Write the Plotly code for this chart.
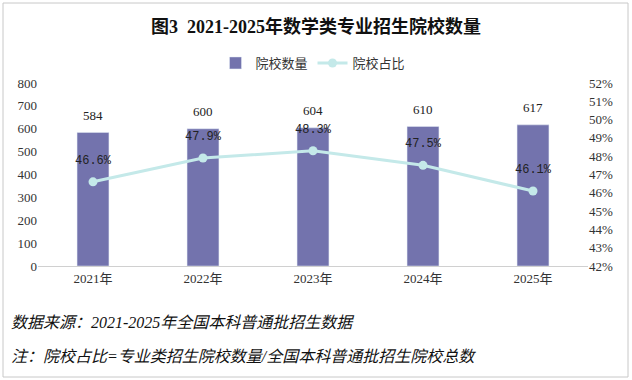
import plotly.graph_objects as go

years = ["2021年", "2022年", "2023年", "2024年", "2025年"]
counts = [584, 600, 604, 610, 617]
ratios = [46.6, 47.9, 48.3, 47.5, 46.1]
left_ticks = [0, 100, 200, 300, 400, 500, 600, 700, 800]
right_ticks = [42, 43, 44, 45, 46, 47, 48, 49, 50, 51, 52]

FONT = "Liberation Serif, Noto Sans CJK SC"
BAR = "#7373AD"
LINE = "#C4E9E9"

fig = go.Figure()
fig.add_trace(go.Bar(
    x=years, y=counts, name="院校数量", marker_color=BAR, width=0.29,
))
fig.add_trace(go.Scatter(
    x=years, y=ratios, name="院校占比", yaxis="y2", mode="lines+markers",
    line=dict(color=LINE, width=3), marker=dict(color=LINE, size=9),
))
for yr, c in zip(years, counts):
    fig.add_annotation(x=yr, y=c, xref="x", yref="y", text=str(c), showarrow=False,
                       yshift=17, font=dict(family=FONT, size=13, color="#222"))
for yr, r in zip(years, ratios):
    fig.add_annotation(x=yr, y=r, xref="x", yref="y2", text=f"{r:.1f}%", showarrow=False,
                       yshift=21, font=dict(family="Liberation Mono, DejaVu Sans Mono", size=12, color="#222"))

fig.update_layout(
    width=632, height=380,
    margin=dict(l=38, r=44, t=83, b=114, autoexpand=False),
    paper_bgcolor="white", plot_bgcolor="white",
    font=dict(family=FONT, size=12, color="#333"),
    title=dict(text="<b>图3  2021-2025年数学类专业招生院校数量</b>", x=0.5, xanchor="center",
               y=1 - 27 / 380, yanchor="middle", font=dict(family=FONT, size=18, color="#111")),
    legend=dict(orientation="h", x=0.5, xanchor="center", yref="container", y=1 - 63 / 380, yanchor="middle",
                font=dict(family=FONT, size=13, color="#333")),
    bargap=0.7,
    xaxis=dict(showgrid=False, showline=True, linecolor="#D0D0D0", linewidth=1, ticks="",
               tickfont=dict(family=FONT, size=13, color="#333")),
    yaxis=dict(range=[0, 800], tickvals=left_ticks, showgrid=False, zeroline=False,
               tickfont=dict(family=FONT, size=13, color="#333")),
    yaxis2=dict(range=[42, 52], tickvals=right_ticks, ticktext=[f"{v}%" for v in right_ticks],
                overlaying="y", side="right", showgrid=False, zeroline=False,
                tickfont=dict(family=FONT, size=13, color="#333")),
    showlegend=True,
)

fig.add_annotation(text="<i>数据来源：2021-2025年全国本科普通批招生数据</i>", xref="paper", yref="paper",
                   x=(9 - 38) / 550, y=(266 - 322) / 183, xanchor="left", yanchor="middle",
                   showarrow=False, font=dict(family=FONT, size=16, color="#111"))
fig.add_annotation(text="<i>注：院校占比=专业类招生院校数量/全国本科普通批招生院校总数</i>", xref="paper", yref="paper",
                   x=(9 - 38) / 550, y=(266 - 356) / 183, xanchor="left", yanchor="middle",
                   showarrow=False, font=dict(family=FONT, size=16, color="#111"))
fig.add_shape(type="rect", xref="paper", yref="paper",
              x0=(3 - 38) / 550, x1=(628 - 38) / 550, y0=(266 - 377) / 183, y1=(266 - 3) / 183,
              line=dict(color="#C8C8C8", width=1))

fig.write_html("out.html", config={"displayModeBar": False},
               post_script="document.body.style.margin='0';")
